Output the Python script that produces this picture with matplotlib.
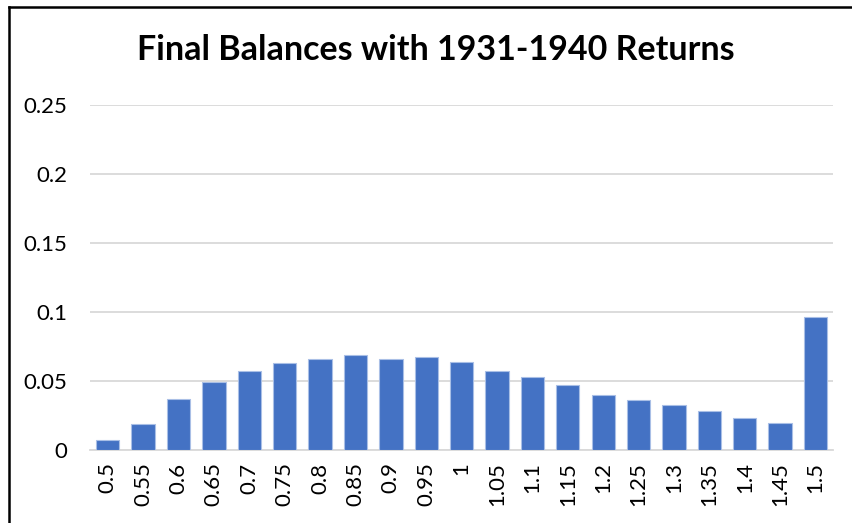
import matplotlib
matplotlib.use("Agg")
import matplotlib.pyplot as plt
from matplotlib.lines import Line2D

categories = ["0.5", "0.55", "0.6", "0.65", "0.7", "0.75", "0.8", "0.85", "0.9", "0.95",
              "1", "1.05", "1.1", "1.15", "1.2", "1.25", "1.3", "1.35", "1.4", "1.45", "1.5"]
frequencies = [0.0073, 0.0189, 0.0368, 0.0494, 0.0571, 0.0632, 0.0663, 0.0692, 0.0663, 0.0673,
               0.0640, 0.0571, 0.0529, 0.0472, 0.0402, 0.0361, 0.0329, 0.0283, 0.0232, 0.0194,
               0.0961]
y_ticks = [0, 0.05, 0.1, 0.15, 0.2, 0.25]
y_tick_labels = ["0", "0.05", "0.1", "0.15", "0.2", "0.25"]
title = "Final Balances with 1931-1940 Returns"

plt.rcParams["font.family"] = ["Lato", "DejaVu Sans"]

fig = plt.figure(figsize=(8.52, 5.23), dpi=100)
ax = fig.add_axes([0.1056, 0.1396, 0.8724, 0.6594])

x = range(len(categories))
ax.bar(x, frequencies, width=0.66, color="#4472C4", edgecolor="#A9BFE6", linewidth=0.8, zorder=3)

ax.set_xlim(-0.5, len(categories) - 0.5)
ax.set_ylim(0, 0.25)
ax.set_yticks(y_ticks)
ax.set_yticklabels(y_tick_labels)
ax.set_xticks(list(x))
ax.set_xticklabels(categories, rotation=90)

ax.grid(axis="y", color="#D9D9D9", linewidth=1.3, zorder=0)
for side in ("top", "right", "left"):
    ax.spines[side].set_visible(False)
ax.spines["bottom"].set_color("#D9D9D9")
ax.spines["bottom"].set_linewidth(1.3)
ax.tick_params(axis="both", length=0, labelsize=16, colors="black")
ax.tick_params(axis="y", pad=16)
ax.tick_params(axis="x", pad=9)

fig.text(0.511, 0.905, title, ha="center", va="center", fontsize=24.5, fontweight="bold")

# chart frame (top and left edges)
fig.add_artist(Line2D([8.5 / 852, 8.5 / 852], [0, 1 - 7 / 523], transform=fig.transFigure,
                      color="black", linewidth=1.8))
fig.add_artist(Line2D([8.5 / 852, 1], [1 - 7 / 523, 1 - 7 / 523], transform=fig.transFigure,
                      color="black", linewidth=1.8))

fig.savefig("out.png", dpi=100, facecolor="white")
